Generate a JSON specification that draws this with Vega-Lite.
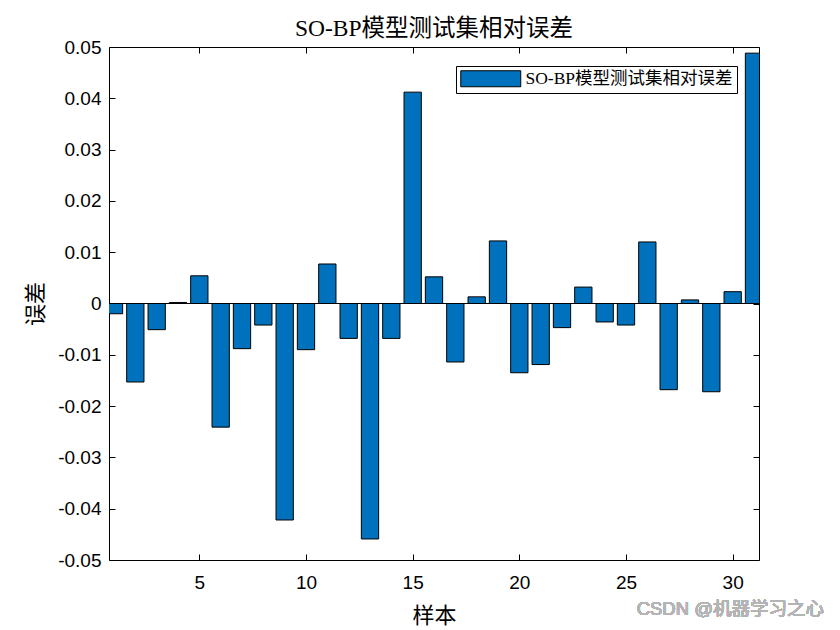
{
  "$schema": "https://vega.github.io/schema/vega-lite/v6.json",
  "width": 650,
  "height": 513,
  "autosize": "none",
  "padding": {"left": 109, "top": 47, "right": 81, "bottom": 70},
  "background": "white",
  "title": {
    "text": "SO-BP模型测试集相对误差",
    "font": "Liberation Serif, Noto Sans CJK SC",
    "fontSize": 23.5,
    "fontWeight": "normal",
    "color": "black",
    "anchor": "middle",
    "offset": -2
  },
  "config": {
    "view": {"stroke": null},
    "axis": {
      "domainColor": "black",
      "domainWidth": 1,
      "tickColor": "black",
      "tickWidth": 1,
      "tickSize": -6,
      "grid": false,
      "labelFont": "Liberation Sans",
      "labelFontSize": 19,
      "labelColor": "black",
      "titleFont": "Liberation Serif, Noto Sans CJK SC",
      "titleFontSize": 22,
      "titleFontWeight": "normal",
      "titleColor": "black"
    }
  },
  "data": {
    "values": [
      {"i": 1, "v": -0.0020},
      {"i": 2, "v": -0.0153},
      {"i": 3, "v": -0.0051},
      {"i": 4, "v": 0.0002},
      {"i": 5, "v": 0.0054},
      {"i": 6, "v": -0.0241},
      {"i": 7, "v": -0.0088},
      {"i": 8, "v": -0.0042},
      {"i": 9, "v": -0.0422},
      {"i": 10, "v": -0.0090},
      {"i": 11, "v": 0.0077},
      {"i": 12, "v": -0.0068},
      {"i": 13, "v": -0.0459},
      {"i": 14, "v": -0.0068},
      {"i": 15, "v": 0.0412},
      {"i": 16, "v": 0.0052},
      {"i": 17, "v": -0.0114},
      {"i": 18, "v": 0.0013},
      {"i": 19, "v": 0.0122},
      {"i": 20, "v": -0.0135},
      {"i": 21, "v": -0.0119},
      {"i": 22, "v": -0.0047},
      {"i": 23, "v": 0.0032},
      {"i": 24, "v": -0.0036},
      {"i": 25, "v": -0.0042},
      {"i": 26, "v": 0.0120},
      {"i": 27, "v": -0.0168},
      {"i": 28, "v": 0.0007},
      {"i": 29, "v": -0.0172},
      {"i": 30, "v": 0.0023},
      {"i": 31, "v": 0.0488}
    ]
  },
  "layer": [
    {
      "mark": {"type": "bar", "size": 17.3, "stroke": "black", "strokeWidth": 1, "clip": true},
      "encoding": {
        "x": {
          "field": "i",
          "type": "quantitative",
          "scale": {"domain": [1, 31], "nice": false, "zero": false},
          "axis": {
            "orient": "bottom",
            "title": "样本",
            "values": [5, 10, 15, 20, 25, 30],
            "labelPadding": 19,
            "titlePadding": 13,
            "labelFlush": false
          }
        },
        "y": {
          "field": "v",
          "type": "quantitative",
          "scale": {"domain": [-0.05, 0.05], "nice": false},
          "axis": {
            "orient": "left",
            "title": "误差",
            "values": [-0.05, -0.04, -0.03, -0.02, -0.01, 0, 0.01, 0.02, 0.03, 0.04, 0.05],
            "labelExpr": "datum.value == 0 ? '0' : replace(replace(format(datum.value, '.2f'), '−', '-'), '\u2212', '-')",
            "labelPadding": 14,
            "titlePadding": 10,
            "labelFlush": false
          }
        },
        "color": {
          "datum": "SO-BP模型测试集相对误差",
          "type": "nominal",
          "scale": {"range": ["#0072BD"]},
          "legend": {
            "orient": "none",
            "legendX": 347,
            "legendY": 19,
            "title": null,
            "symbolType": "M-1,-1H6.5V1H-1Z",
            "symbolSize": 256,
            "symbolStrokeColor": "black",
            "symbolStrokeWidth": 1,
            "symbolOpacity": 1,
            "labelFont": "Liberation Serif, Noto Sans CJK SC",
            "labelFontSize": 17.5,
            "labelColor": "black",
            "labelLimit": 500,
            "labelOffset": 48,
            "strokeColor": "black",
            "fillColor": "white",
            "padding": 4,
            "cornerRadius": 0
          }
        }
      }
    },
    {
      "mark": {"type": "rule", "color": "black", "strokeWidth": 1},
      "encoding": {
        "x": {
          "datum": 1,
          "type": "quantitative",
          "scale": {"domain": [1, 31], "nice": false, "zero": false},
          "axis": {"orient": "top", "title": null, "labels": false, "values": [5, 10, 15, 20, 25, 30]}
        },
        "x2": {"datum": 31},
        "y": {
          "datum": 0,
          "type": "quantitative",
          "scale": {"domain": [-0.05, 0.05], "nice": false},
          "axis": {"orient": "right", "title": null, "labels": false, "values": [-0.05, -0.04, -0.03, -0.02, -0.01, 0, 0.01, 0.02, 0.03, 0.04, 0.05]}
        }
      }
    },
    {
      "mark": {
        "type": "text",
        "text": "CSDN @机器学习之心",
        "align": "right",
        "baseline": "middle",
        "dx": 70,
        "font": "Liberation Sans, Noto Sans CJK SC",
        "fontSize": 18.5,
        "color": "#b4b4b4"
      },
      "encoding": {
        "x": {"datum": 31, "type": "quantitative", "axis": null},
        "y": {"datum": -0.0595, "type": "quantitative", "axis": null}
      }
    }
  ],
  "resolve": {"axis": {"x": "independent", "y": "independent"}}
}
